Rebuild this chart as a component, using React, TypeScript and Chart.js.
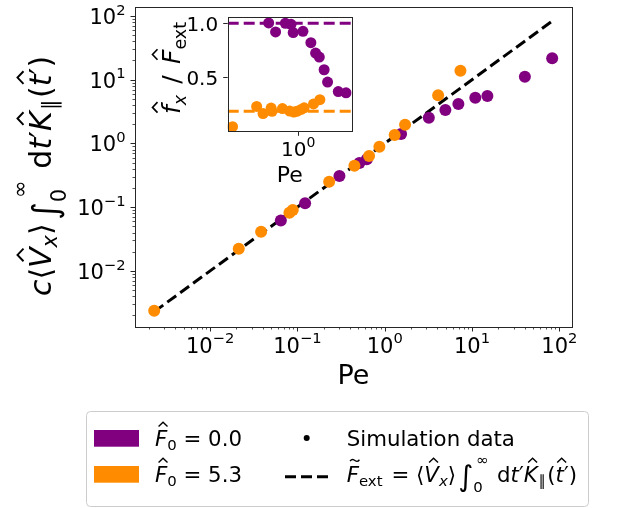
import React, { useEffect, useRef } from "react";
import { Chart, registerables } from "chart.js";
Chart.register(...registerables);

// ---------------- data ----------------
const purplePe = [0.0646, 0.1225, 0.303, 0.513, 0.624, 1.54, 3.2, 4.95, 6.98, 10.9, 15.0, 40.3, 82.8];
const purpleY = [0.062, 0.115, 0.307, 0.492, 0.562, 1.41, 2.53, 3.34, 4.15, 5.21, 5.55, 11.1, 21.7];
const orangePe = [0.00229, 0.0213, 0.0384, 0.081, 0.0885, 0.231, 0.45, 0.662, 0.869, 1.3, 1.71, 4.09, 7.37];
const orangeY = [0.00237, 0.0222, 0.0411, 0.0817, 0.09, 0.25, 0.447, 0.634, 0.887, 1.356, 1.97, 5.69, 13.8];
const purpleRatio = [1.003, 0.92, 1.0, 0.99, 0.914, 0.926, 0.821, 0.725, 0.688, 0.571, 0.457, 0.37, 0.358];
const orangeRatio = [0.046, 0.232, 0.167, 0.217, 0.187, 0.213, 0.19, 0.18, 0.187, 0.205, 0.22, 0.256, 0.295];
const theoryPe = [0.0023, 83];
const theoryY = [0.0023, 83];
const refPurple = 1.0;
const refOrange = 1 / 5.3;
const mainTickExps = [-2, -1, 0, 1, 2];
const insetXTickExps = [0];
const insetYTicks = [0.5, 1.0];
const legendLabels = ["0.0", "5.3"];

const PURPLE = "#800080";
const ORANGE = "#ff8c00";
const FAM = '"DejaVu Sans"';

// limits
const MAIN_X = [Math.pow(10, -2.86), Math.pow(10, 2.145)];
const MAIN_Y = [Math.pow(10, -2.88), Math.pow(10, 2.14)];
const INSET_X = [Math.pow(10, -2.835), Math.pow(10, 2.145)];
const INSET_Y = [0.003, 1.055];

// ---------------- math text helper ----------------
type Seg = { t: string; s: number; it?: boolean; dy?: number; dx?: number; hat?: boolean; tilde?: boolean; stay?: boolean };
const fnt = (s: number, it?: boolean) => `${it ? "italic " : ""}${s}px ${FAM}`;

function measureMath(ctx: CanvasRenderingContext2D, segs: Seg[]) {
  let x = 0;
  let pend = 0;
  for (const g of segs) {
    ctx.font = fnt(g.s, g.it);
    const w = ctx.measureText(g.t).width + (g.dx || 0);
    if (g.stay) pend = Math.max(pend, w);
    else {
      x += Math.max(w, pend);
      pend = 0;
    }
  }
  return x;
}

function drawMath(ctx: CanvasRenderingContext2D, segs: Seg[], x0: number, y0: number) {
  let x = x0;
  let pend = 0;
  ctx.textAlign = "left";
  ctx.textBaseline = "alphabetic";
  for (const g of segs) {
    ctx.font = fnt(g.s, g.it);
    const tw = ctx.measureText(g.t).width;
    const sx = x + (g.dx || 0);
    const by = y0 + (g.dy || 0);
    ctx.fillText(g.t, sx, by);
    if (g.hat || g.tilde) {
      const cx = sx + tw / 2 + (g.it ? g.s * 0.09 : 0);
      const b = by - g.s * 0.9;
      ctx.save();
      ctx.lineWidth = g.s * 0.065;
      ctx.strokeStyle = ctx.fillStyle as string;
      ctx.beginPath();
      if (g.hat) {
        const hw = g.s * 0.21;
        ctx.moveTo(cx - hw, b);
        ctx.lineTo(cx, b - g.s * 0.2);
        ctx.lineTo(cx + hw, b);
      } else {
        const hw = g.s * 0.22;
        const m = b - g.s * 0.1;
        ctx.moveTo(cx - hw, m + g.s * 0.03);
        ctx.bezierCurveTo(cx - hw * 0.5, m - g.s * 0.12, cx - hw * 0.2, m - g.s * 0.02, cx, m);
        ctx.bezierCurveTo(cx + hw * 0.2, m + g.s * 0.02, cx + hw * 0.5, m + g.s * 0.12, cx + hw, m - g.s * 0.03);
      }
      ctx.stroke();
      ctx.restore();
    }
    const w = tw + (g.dx || 0);
    if (g.stay) pend = Math.max(pend, w);
    else {
      x += Math.max(w, pend);
      pend = 0;
    }
  }
  return x - x0;
}

function kernelSegs(s: number, is: number): Seg[] {
  return [
    { t: "⟨", s },
    { t: "V", s, it: true, hat: true },
    { t: "x", s: s * 0.7, it: true, dy: s * 0.22 },
    { t: "⟩", s },
    { t: "∫", s: s * is, dy: s * 0.22, dx: s * 0.12 },
    { t: "0", s: s * 0.7, dy: s * 0.5, stay: true, dx: -s * 0.02 },
    { t: "∞", s: s * 0.7, dy: -s * 0.78, dx: s * 0.12 },
    { t: " ", s: s * 1.25 },
    { t: "d", s },
    { t: "t", s, it: true },
    { t: "′", s },
    { t: "K", s, it: true, hat: true },
    { t: "∥", s: s * 0.7, dy: s * 0.22, dx: s * 0.04 },
    { t: "(", s, dx: s * 0.06 },
    { t: "t", s, it: true, hat: true },
    { t: "′", s },
    { t: ")", s },
  ];
}

function powLabel(e: number, s: number): Seg[] {
  const ex = e < 0 ? "\u2212" + Math.abs(e) : String(e);
  return [
    { t: "10", s },
    { t: ex, s: s * 0.7, dy: -s * 0.44 },
  ];
}

function logTicks(min: number, max: number) {
  const major: number[] = [];
  const minor: number[] = [];
  for (let k = Math.floor(Math.log10(min)); k <= Math.ceil(Math.log10(max)); k++) {
    for (let m = 1; m < 10; m++) {
      const v = m * Math.pow(10, k);
      if (v < min || v > max) continue;
      (m === 1 ? major : minor).push(v);
    }
  }
  return { major, minor };
}

// ---------------- plugins ----------------
const mainDecor = {
  id: "mainDecor",
  afterDraw(chart: any) {
    const { ctx, chartArea: a } = chart;
    const xs = chart.scales.x;
    const ys = chart.scales.y;
    ctx.save();
    ctx.lineWidth = 1;
    ctx.strokeStyle = "#262626";
    ctx.strokeRect(Math.round(a.left) + 0.5, Math.round(a.top) + 0.5, Math.round(a.right - a.left), Math.round(a.bottom - a.top));
    const xt = logTicks(MAIN_X[0], MAIN_X[1]);
    const yt = logTicks(MAIN_Y[0], MAIN_Y[1]);
    const tick = (vals: number[], len: number, w: number, horiz: boolean) => {
      ctx.lineWidth = w;
      ctx.beginPath();
      for (const v of vals) {
        if (horiz) {
          const p = Math.round(xs.getPixelForValue(v)) + 0.5;
          ctx.moveTo(p, a.bottom);
          ctx.lineTo(p, a.bottom + len);
        } else {
          const p = Math.round(ys.getPixelForValue(v)) + 0.5;
          ctx.moveTo(a.left, p);
          ctx.lineTo(a.left - len, p);
        }
      }
      ctx.stroke();
    };
    tick(xt.major, 4.5, 1, true);
    tick(xt.minor, 2.5, 0.8, true);
    tick(yt.major, 4.5, 1, false);
    tick(yt.minor, 2.5, 0.8, false);
    ctx.fillStyle = "#000";
    const TS = 21;
    for (const e of mainTickExps) {
      const v = Math.pow(10, e);
      const segs = powLabel(e, TS);
      const w = measureMath(ctx, segs);
      drawMath(ctx, segs, xs.getPixelForValue(v) - w / 2, a.bottom + 25.5);
      drawMath(ctx, segs, a.left - 9.5 - w, ys.getPixelForValue(v) + 8);
    }
    ctx.font = fnt(27);
    ctx.textAlign = "center";
    ctx.fillText("Pe", (a.left + a.right) / 2, 383.5);
    const YS = 30;
    const ySegs: Seg[] = [{ t: "c", s: YS, it: true }, ...kernelSegs(YS, 1.15)];
    const yw = measureMath(ctx, ySegs);
    ctx.save();
    ctx.translate(50.5, 176);
    ctx.rotate(-Math.PI / 2);
    drawMath(ctx, ySegs, -yw / 2, 0);
    ctx.restore();

    // legend
    const L = 86.5, T = 411.5, W = 502, H = 95, R = 4;
    ctx.beginPath();
    ctx.moveTo(L + R, T);
    ctx.arcTo(L + W, T, L + W, T + H, R);
    ctx.arcTo(L + W, T + H, L, T + H, R);
    ctx.arcTo(L, T + H, L, T, R);
    ctx.arcTo(L, T, L + W, T, R);
    ctx.closePath();
    ctx.fillStyle = "rgba(255,255,255,0.8)";
    ctx.fill();
    ctx.strokeStyle = "#cccccc";
    ctx.lineWidth = 1;
    ctx.stroke();

    const LS = 21.3;
    const rows = [445.7, 481.7];
    const cols = [PURPLE, ORANGE];
    rows.forEach((by, i) => {
      ctx.fillStyle = cols[i];
      ctx.fillRect(94, by - 15.7, 45, 16.7);
      ctx.fillStyle = "#000";
      drawMath(ctx, [
        { t: "F", s: LS, it: true, hat: true },
        { t: "0", s: LS * 0.7, dy: LS * 0.22 },
        { t: " = " + legendLabels[i], s: LS },
      ], 155, by);
    });
    ctx.fillStyle = "#000";
    ctx.beginPath();
    ctx.arc(306.7, 438, 3, 0, Math.PI * 2);
    ctx.fill();
    ctx.font = fnt(LS);
    ctx.textAlign = "left";
    ctx.fillText("Simulation data", 346.7, rows[0]);
    ctx.save();
    ctx.strokeStyle = "#000";
    ctx.lineWidth = 3;
    ctx.setLineDash([11, 5]);
    ctx.beginPath();
    ctx.moveTo(285, 476.7);
    ctx.lineTo(328, 476.7);
    ctx.stroke();
    ctx.restore();
    ctx.fillStyle = "#000";
    drawMath(ctx, [
      { t: "F", s: LS, it: true, tilde: true },
      { t: "ext", s: LS * 0.7, dy: LS * 0.22 },
      { t: " = ", s: LS, dx: LS * 0.1 },
      ...kernelSegs(LS, 1.35),
    ], 346.7, rows[1]);
    ctx.restore();
  },
};

const insetDecor = {
  id: "insetDecor",
  beforeDraw(chart: any) {
    const { ctx, chartArea: a } = chart;
    ctx.save();
    ctx.fillStyle = "#fff";
    ctx.fillRect(a.left, a.top, a.right - a.left, a.bottom - a.top);
    ctx.restore();
  },
  afterDraw(chart: any) {
    const { ctx, chartArea: a } = chart;
    const xs = chart.scales.x;
    const ys = chart.scales.y;
    ctx.save();
    ctx.strokeStyle = "#262626";
    ctx.lineWidth = 1;
    ctx.strokeRect(Math.round(a.left) + 0.5, Math.round(a.top) + 0.5, Math.round(a.right - a.left), Math.round(a.bottom - a.top));
    ctx.beginPath();
    for (const e of insetXTickExps) {
      const p = Math.round(xs.getPixelForValue(Math.pow(10, e))) + 0.5;
      ctx.moveTo(p, a.bottom);
      ctx.lineTo(p, a.bottom + 4.5);
    }
    for (const v of insetYTicks) {
      const p = Math.round(ys.getPixelForValue(v)) + 0.5;
      ctx.moveTo(a.left, p);
      ctx.lineTo(a.left - 4.5, p);
    }
    ctx.stroke();
    ctx.fillStyle = "#000";
    const TS = 20;
    for (const e of insetXTickExps) {
      const segs = powLabel(e, TS);
      const w = measureMath(ctx, segs);
      drawMath(ctx, segs, xs.getPixelForValue(Math.pow(10, e)) - w / 2, a.bottom + 24.5);
    }
    ctx.font = fnt(TS);
    ctx.textAlign = "right";
    for (const v of insetYTicks) {
      ctx.fillText(v.toFixed(1), a.left - 9.5, ys.getPixelForValue(v) + 8);
    }
    ctx.textAlign = "center";
    ctx.font = fnt(22);
    ctx.fillText("Pe", (a.left + a.right) / 2, 181.7);
    const S = 25;
    const segs: Seg[] = [
      { t: "f", s: S, it: true, hat: true },
      { t: "x", s: S * 0.7, it: true, dy: S * 0.22 },
      { t: "/", s: S, dx: S * 0.45 },
      { t: "F", s: S, it: true, hat: true, dx: S * 0.45 },
      { t: "ext", s: S * 0.7, dy: S * 0.22 },
    ];
    const w = measureMath(ctx, segs);
    ctx.save();
    ctx.translate(50, 68);
    ctx.rotate(-Math.PI / 2);
    drawMath(ctx, segs, -w / 2, 0);
    ctx.restore();
    ctx.restore();
  },
};

const pts = (xs: number[], ys: number[]) => xs.map((x, i) => ({ x, y: ys[i] }));

export default function App() {
  const mainRef = useRef<HTMLCanvasElement>(null);
  const insetRef = useRef<HTMLCanvasElement>(null);

  useEffect(() => {
    document.body.style.margin = "0";
    const common = {
      animation: false as const,
      responsive: false,
      events: [] as any[],
      plugins: { legend: { display: false }, tooltip: { enabled: false } },
    };
    const main = new Chart(mainRef.current!, {
      type: "scatter",
      data: {
        datasets: [
          { data: pts(orangePe, orangeY), backgroundColor: ORANGE, pointRadius: 6, pointBorderWidth: 0, order: 0 } as any,
          { data: pts(purplePe, purpleY), backgroundColor: PURPLE, pointRadius: 6, pointBorderWidth: 0, order: 1 } as any,
          { data: pts(theoryPe, theoryY), showLine: true, borderColor: "#000", borderWidth: 3, borderDash: [11, 5], pointRadius: 0, order: 2 } as any,
        ],
      },
      options: {
        ...common,
        layout: { padding: { left: 135, top: 7, right: 63, bottom: 181 } },
        scales: {
          x: { type: "logarithmic", min: MAIN_X[0], max: MAIN_X[1], display: false },
          y: { type: "logarithmic", min: MAIN_Y[0], max: MAIN_Y[1], display: false },
        },
      } as any,
      plugins: [mainDecor],
    });
    const inset = new Chart(insetRef.current!, {
      type: "scatter",
      data: {
        datasets: [
          { data: pts(orangePe, orangeRatio), backgroundColor: ORANGE, pointRadius: 5.5, pointBorderWidth: 0, order: 0 } as any,
          { data: pts(purplePe, purpleRatio), backgroundColor: PURPLE, pointRadius: 5.5, pointBorderWidth: 0, order: 1 } as any,
          { data: [{ x: INSET_X[0], y: refPurple }, { x: INSET_X[1], y: refPurple }], showLine: true, borderColor: PURPLE, borderWidth: 3, borderDash: [11, 5], pointRadius: 0, order: 2 } as any,
          { data: [{ x: INSET_X[0], y: refOrange }, { x: INSET_X[1], y: refOrange }], showLine: true, borderColor: ORANGE, borderWidth: 3, borderDash: [11, 5], pointRadius: 0, order: 3 } as any,
        ],
      },
      options: {
        ...common,
        layout: { padding: { left: 97.7, top: 17.3, right: 18.3, bottom: 68.7 } },
        scales: {
          x: { type: "logarithmic", min: INSET_X[0], max: INSET_X[1], display: false },
          y: { type: "linear", min: INSET_Y[0], max: INSET_Y[1], display: false },
        },
      } as any,
      plugins: [insetDecor],
    });
    return () => {
      main.destroy();
      inset.destroy();
    };
  }, []);

  return (
    <div style={{ position: "fixed", left: 0, top: 0, width: 635, height: 508, background: "#fff" }}>
      <canvas ref={mainRef} width={635} height={508} style={{ position: "absolute", left: 0, top: 0 }} />
      <canvas ref={insetRef} width={240} height={200} style={{ position: "absolute", left: 130, top: 0 }} />
    </div>
  );
}
